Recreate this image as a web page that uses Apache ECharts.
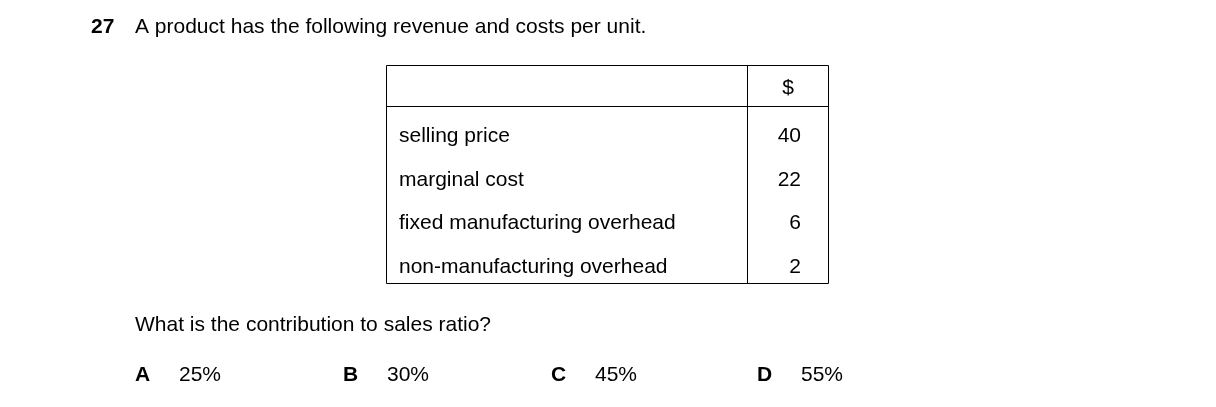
<!DOCTYPE html>
<html><head><meta charset="utf-8">
<script src="https://cdn.jsdelivr.net/npm/echarts@6/dist/echarts.min.js"></script>
<style>html,body{margin:0;padding:0;background:#fff}#c{width:1216px;height:407px}</style>
</head><body><div id="c"></div>
<script>
const questionNumber = "27";
const questionText = "A product has the following revenue and costs per unit.";
const rowLabels = ["selling price", "marginal cost", "fixed manufacturing overhead", "non-manufacturing overhead"];
const rowValues = [40, 22, 6, 2];
const unitHeader = "$";
const prompt = "What is the contribution to sales ratio?";
const optionLetters = ["A", "B", "C", "D"];
const optionValues = ["25%", "30%", "45%", "55%"];

const F = "Liberation Sans, Arial, sans-serif";
const FS = 21;
const chart = echarts.init(document.getElementById('c'));
const g = [];
function txt(x, y, s, opt) {
  g.push({type: 'text', x, y, style: Object.assign({text: s, fill: '#000', font: `${FS}px ${F}`, textVerticalAlign: 'middle'}, opt || {})});
}
function line(x1, y1, x2, y2) {
  g.push({type: 'line', shape: {x1, y1, x2, y2}, style: {stroke: '#000', lineWidth: 1}});
}
txt(91, 27, questionNumber, {font: `bold ${FS}px ${F}`});
txt(135, 27, questionText);
// table
g.push({type: 'rect', shape: {x: 386.5, y: 65.5, width: 442, height: 218}, style: {fill: 'none', stroke: '#000', lineWidth: 1}});
line(747.5, 65, 747.5, 284);
line(386, 106.5, 829, 106.5);
txt(788, 88, unitHeader, {textAlign: 'center'});
const rowY = [136, 180, 223, 267];
rowLabels.forEach((l, i) => {
  txt(399, rowY[i], l);
  txt(801, rowY[i], String(rowValues[i]), {textAlign: 'right'});
});
txt(135, 325, prompt);
const lx = [135, 343, 551, 757];
optionLetters.forEach((l, i) => {
  txt(lx[i], 375, l, {font: `bold ${FS}px ${F}`});
  txt(lx[i] + 44, 375, optionValues[i]);
});
chart.setOption({animation: false, graphic: g});
</script></body></html>
